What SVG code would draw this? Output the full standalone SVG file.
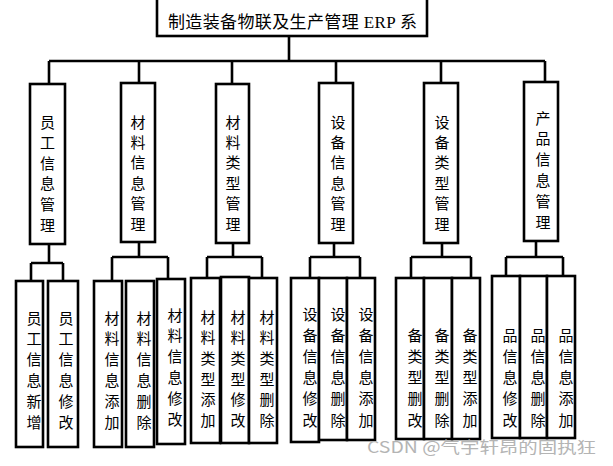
<svg xmlns="http://www.w3.org/2000/svg" width="613" height="466" viewBox="0 0 613 466">
<style>
.box{fill:#fff;stroke:#000;stroke-width:2.6}
.ln{fill:none;stroke:#000;stroke-width:2.6}
.t{font-family:"Noto Sans CJK SC","Noto Sans",sans-serif;font-size:15px;fill:#000;text-anchor:middle}
.title{font-family:"Noto Sans CJK SC","Noto Sans",sans-serif;font-size:17px;fill:#000}
.erp{font-family:"Liberation Serif",serif}
.wm{font-family:"Noto Sans CJK SC","Liberation Sans",sans-serif;font-size:16px;fill:#b4b4b4}
</style>
<rect width="613" height="466" fill="#fff"/>
<g id="connectors">
<path class="ln" d="M289,36V61M49,61H545M49,61V84M139,61V83M232,61V84M336,61V83M441,61V83M545,61V82"/>
<path class="ln" d="M49,244V263M31,263H63M31,263V281M63,263V281"/>
<path class="ln" d="M139,242V257M112,257H168M112,257V281M168,257V279"/>
<path class="ln" d="M233,243V257M207,257H262M207,257V278M262,257V278"/>
<path class="ln" d="M334,243V257M310,257H360M310,257V278M360,257V278"/>
<path class="ln" d="M442,243V257M411,257H471M411,257V278M471,257V278"/>
<path class="ln" d="M536,241V257M506,257H563M506,257V275M563,257V275"/>
</g>
<g id="root">
<rect class="box" x="157" y="-3" width="270" height="39"/>
<text class="title" x="168" y="28" textLength="249" lengthAdjust="spacing">制造装备物联及生产管理<tspan class="erp"> ERP </tspan>系</text>
</g>
<g id="n1"><rect class="box" x="30" y="84" width="35" height="160"/>
<text class="t"><tspan x="47.5" y="127.5">员</tspan><tspan x="47.5" dy="20.6">工</tspan><tspan x="47.5" dy="20.6">信</tspan><tspan x="47.5" dy="20.6">息</tspan><tspan x="47.5" dy="20.6">管</tspan><tspan x="47.5" dy="20.6">理</tspan></text></g>
<g id="n2"><rect class="box" x="121" y="83" width="34" height="159"/>
<text class="t"><tspan x="138" y="127.5">材</tspan><tspan x="138" dy="20.4">料</tspan><tspan x="138" dy="20.4">信</tspan><tspan x="138" dy="20.4">息</tspan><tspan x="138" dy="20.4">管</tspan><tspan x="138" dy="20.4">理</tspan></text></g>
<g id="n3"><rect class="box" x="216" y="84" width="33" height="159"/>
<text class="t"><tspan x="233" y="127.5">材</tspan><tspan x="233" dy="20.4">料</tspan><tspan x="233" dy="20.4">类</tspan><tspan x="233" dy="20.4">型</tspan><tspan x="233" dy="20.4">管</tspan><tspan x="233" dy="20.4">理</tspan></text></g>
<g id="n4"><rect class="box" x="319" y="83" width="34" height="160"/>
<text class="t"><tspan x="338" y="127.5">设</tspan><tspan x="338" dy="20.4">备</tspan><tspan x="338" dy="20.4">信</tspan><tspan x="338" dy="20.4">息</tspan><tspan x="338" dy="20.4">管</tspan><tspan x="338" dy="20.4">理</tspan></text></g>
<g id="n5"><rect class="box" x="424" y="83" width="34" height="160"/>
<text class="t"><tspan x="442" y="127.5">设</tspan><tspan x="442" dy="20.4">备</tspan><tspan x="442" dy="20.4">类</tspan><tspan x="442" dy="20.4">型</tspan><tspan x="442" dy="20.4">管</tspan><tspan x="442" dy="20.4">理</tspan></text></g>
<g id="n6"><rect class="box" x="524" y="82" width="34" height="159"/>
<text class="t"><tspan x="543" y="123.5">产</tspan><tspan x="543" dy="20.8">品</tspan><tspan x="543" dy="20.8">信</tspan><tspan x="543" dy="20.8">息</tspan><tspan x="543" dy="20.8">管</tspan><tspan x="543" dy="20.8">理</tspan></text></g>

<g id="n1a"><rect class="box" x="16" y="281" width="27" height="166"/>
<text class="t"><tspan x="34" y="323.5">员</tspan><tspan x="34" dy="20.8">工</tspan><tspan x="34" dy="20.8">信</tspan><tspan x="34" dy="20.8">息</tspan><tspan x="34" dy="20.8">新</tspan><tspan x="34" dy="20.8">增</tspan></text></g>
<g id="n1b"><rect class="box" x="48" y="281" width="30" height="166"/>
<text class="t"><tspan x="66" y="323.5">员</tspan><tspan x="66" dy="20.8">工</tspan><tspan x="66" dy="20.8">信</tspan><tspan x="66" dy="20.8">息</tspan><tspan x="66" dy="20.8">修</tspan><tspan x="66" dy="20.8">改</tspan></text></g>
<g id="n2a"><rect class="box" x="94" y="281" width="28" height="166"/>
<text class="t"><tspan x="112" y="323.5">材</tspan><tspan x="112" dy="20.8">料</tspan><tspan x="112" dy="20.8">信</tspan><tspan x="112" dy="20.8">息</tspan><tspan x="112" dy="20.8">添</tspan><tspan x="112" dy="20.8">加</tspan></text></g>
<g id="n2b"><rect class="box" x="126" y="281" width="28" height="166"/>
<text class="t"><tspan x="144" y="323.5">材</tspan><tspan x="144" dy="20.8">料</tspan><tspan x="144" dy="20.8">信</tspan><tspan x="144" dy="20.8">息</tspan><tspan x="144" dy="20.8">删</tspan><tspan x="144" dy="20.8">除</tspan></text></g>
<g id="n2c"><rect class="box" x="157" y="279" width="28" height="165"/>
<text class="t"><tspan x="175" y="320.5">材</tspan><tspan x="175" dy="20.8">料</tspan><tspan x="175" dy="20.8">信</tspan><tspan x="175" dy="20.8">息</tspan><tspan x="175" dy="20.8">修</tspan><tspan x="175" dy="20.8">改</tspan></text></g>
<g id="n3a"><rect class="box" x="191" y="278" width="29" height="165"/>
<text class="t"><tspan x="208" y="322.5">材</tspan><tspan x="208" dy="20.7">料</tspan><tspan x="208" dy="20.7">类</tspan><tspan x="208" dy="20.7">型</tspan><tspan x="208" dy="20.7">添</tspan><tspan x="208" dy="20.7">加</tspan></text></g>
<g id="n3b"><rect class="box" x="221" y="277" width="28" height="166"/>
<text class="t"><tspan x="238" y="322.5">材</tspan><tspan x="238" dy="20.7">料</tspan><tspan x="238" dy="20.7">类</tspan><tspan x="238" dy="20.7">型</tspan><tspan x="238" dy="20.7">修</tspan><tspan x="238" dy="20.7">改</tspan></text></g>
<g id="n3c"><rect class="box" x="249" y="278" width="28" height="165"/>
<text class="t"><tspan x="267" y="322.5">材</tspan><tspan x="267" dy="20.7">料</tspan><tspan x="267" dy="20.7">类</tspan><tspan x="267" dy="20.7">型</tspan><tspan x="267" dy="20.7">删</tspan><tspan x="267" dy="20.7">除</tspan></text></g>
<g id="n4a"><rect class="box" x="291" y="278" width="28" height="164"/>
<text class="t"><tspan x="310" y="319.5">设</tspan><tspan x="310" dy="21.2">备</tspan><tspan x="310" dy="21.2">信</tspan><tspan x="310" dy="21.2">息</tspan><tspan x="310" dy="21.2">修</tspan><tspan x="310" dy="21.2">改</tspan></text></g>
<g id="n4b"><rect class="box" x="319" y="278" width="28" height="162"/>
<text class="t"><tspan x="338" y="319.5">设</tspan><tspan x="338" dy="21.2">备</tspan><tspan x="338" dy="21.2">信</tspan><tspan x="338" dy="21.2">息</tspan><tspan x="338" dy="21.2">删</tspan><tspan x="338" dy="21.2">除</tspan></text></g>
<g id="n4c"><rect class="box" x="347" y="278" width="28" height="162"/>
<text class="t"><tspan x="366" y="319.5">设</tspan><tspan x="366" dy="21.2">备</tspan><tspan x="366" dy="21.2">信</tspan><tspan x="366" dy="21.2">息</tspan><tspan x="366" dy="21.2">添</tspan><tspan x="366" dy="21.2">加</tspan></text></g>
<g id="n5a"><rect class="box" x="396" y="278" width="28" height="161"/>
<text class="t"><tspan x="415" y="340.5">备</tspan><tspan x="415" dy="21.25">类</tspan><tspan x="415" dy="21.25">型</tspan><tspan x="415" dy="21.25">删</tspan><tspan x="415" dy="21.25">改</tspan></text></g>
<g id="n5b"><rect class="box" x="424" y="278" width="28" height="161"/>
<text class="t"><tspan x="442" y="340.5">备</tspan><tspan x="442" dy="21.25">类</tspan><tspan x="442" dy="21.25">型</tspan><tspan x="442" dy="21.25">删</tspan><tspan x="442" dy="21.25">除</tspan></text></g>
<g id="n5c"><rect class="box" x="452" y="278" width="28" height="161"/>
<text class="t"><tspan x="470" y="340.5">备</tspan><tspan x="470" dy="21.25">类</tspan><tspan x="470" dy="21.25">型</tspan><tspan x="470" dy="21.25">添</tspan><tspan x="470" dy="21.25">加</tspan></text></g>
<g id="n6a"><rect class="box" x="492" y="276" width="28" height="162"/>
<text class="t"><tspan x="510" y="340.5">品</tspan><tspan x="510" dy="21.25">信</tspan><tspan x="510" dy="21.25">息</tspan><tspan x="510" dy="21.25">修</tspan><tspan x="510" dy="21.25">改</tspan></text></g>
<g id="n6b"><rect class="box" x="520" y="276" width="27" height="162"/>
<text class="t"><tspan x="538" y="340.5">品</tspan><tspan x="538" dy="21.25">信</tspan><tspan x="538" dy="21.25">息</tspan><tspan x="538" dy="21.25">删</tspan><tspan x="538" dy="21.25">除</tspan></text></g>
<g id="n6c"><rect class="box" x="547" y="276" width="28" height="162"/>
<text class="t"><tspan x="566" y="340.5">品</tspan><tspan x="566" dy="21.25">信</tspan><tspan x="566" dy="21.25">息</tspan><tspan x="566" dy="21.25">添</tspan><tspan x="566" dy="21.25">加</tspan></text></g>
<text class="wm" x="367" y="453" font-size="17" textLength="229" lengthAdjust="spacingAndGlyphs">CSDN @气宇轩昂的固执狂</text>
</svg>
